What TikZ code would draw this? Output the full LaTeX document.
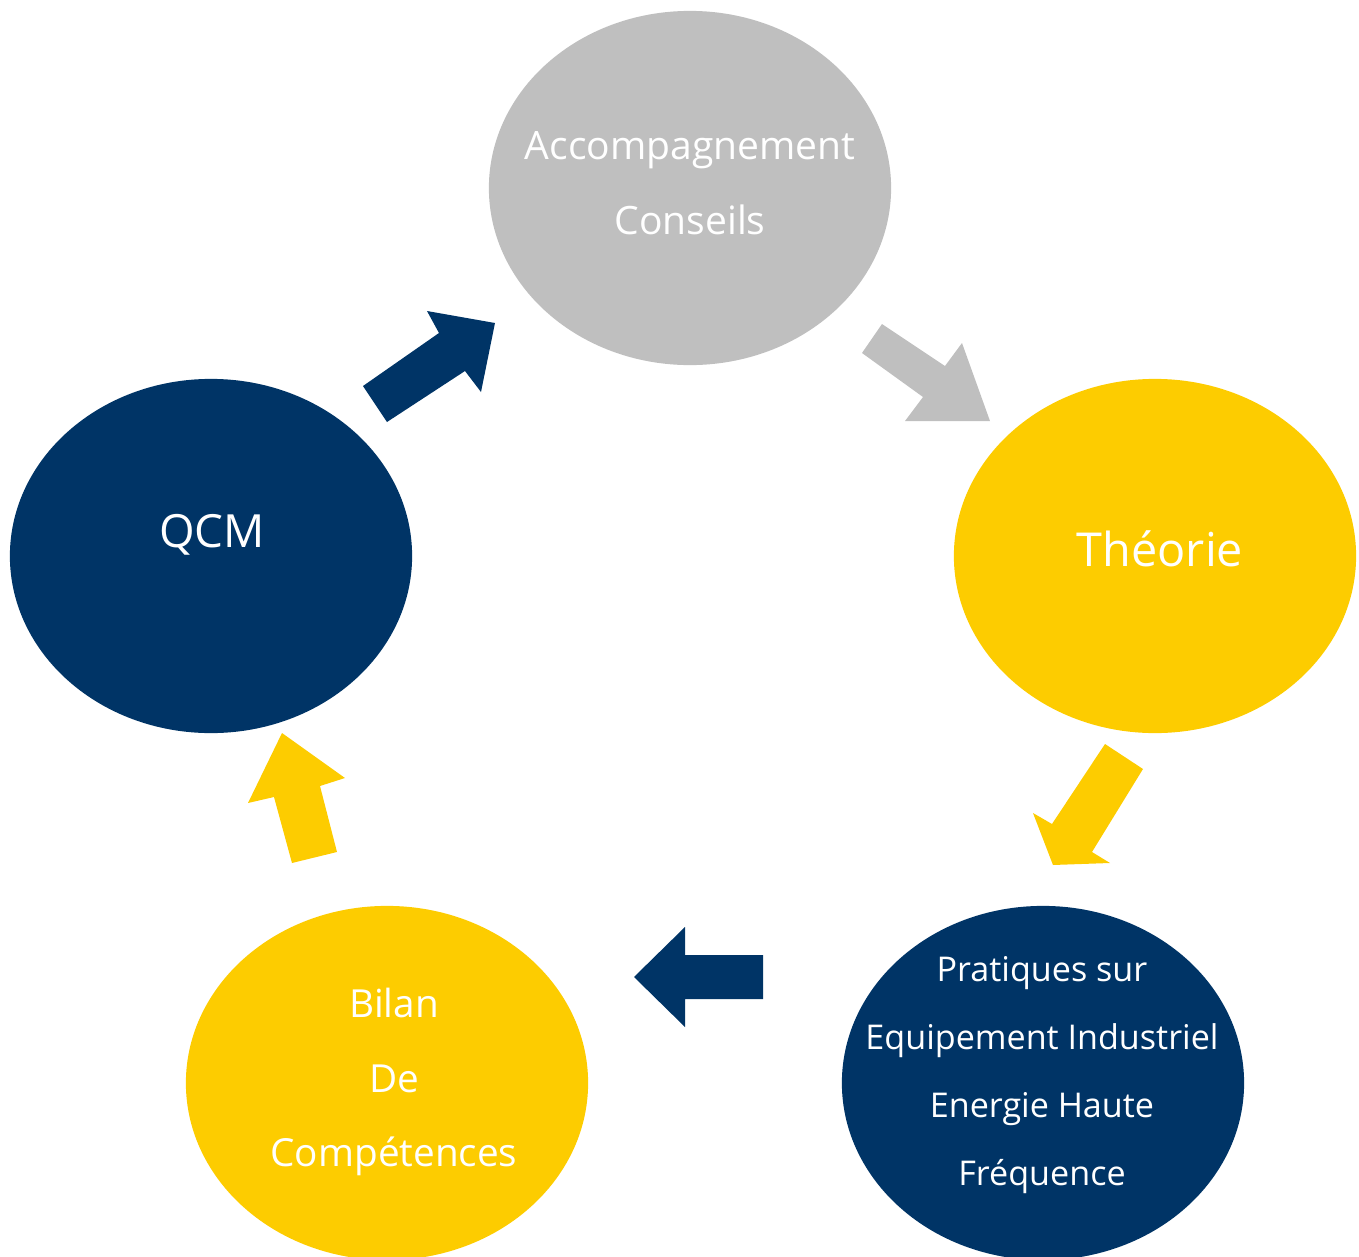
\documentclass[tikz,border=0pt]{standalone}
\usepackage{fontspec}
\setmainfont{Open Sans}
\usetikzlibrary{shapes.geometric}
\definecolor{navy}{RGB}{0,52,102}
\definecolor{jaune}{RGB}{253,204,0}
\definecolor{gris}{RGB}{191,191,191}
\tikzset{
	etape/.style={ellipse, minimum width=4.02cm, minimum height=3.54cm, inner sep=0pt},
	texte/.style={text=white, align=center},
}
\begin{document}
\begin{tikzpicture}[x=0.01cm, y=-0.01cm]
	\useasboundingbox (0,0) rectangle (1359,1257);
	\node[etape, fill=gris] (conseil) at (690,188) {};
	\node[etape, fill=jaune] (theorie) at (1155,556) {};
	\node[etape, fill=navy] (pratique) at (1043,1083) {};
	\node[etape, fill=jaune] (bilan) at (387,1083) {};
	\node[etape, fill=navy] (qcm) at (211,556) {};

	\node[texte, font=\fontsize{11.1}{21.3}\selectfont] (conseiltxt) at (690,183) {Accompagnement\\Conseils};
	\node[texte, font=\fontsize{13.3}{16}\selectfont] (theorietxt) at (1160,549) {Théorie};
	\node[texte, font=\fontsize{9.7}{19.3}\selectfont] (pratiquetxt) at (1042,1075) {Pratiques sur\\Equipement Industriel\\Energie Haute\\Fréquence};
	\node[texte, font=\fontsize{11}{21.3}\selectfont] (bilantxt) at (394,1082) {Bilan\\De\\Compétences};
	\node[texte, font=\fontsize{13}{16}\selectfont] (qcmtxt) at (212,535) {QCM};

	\fill[navy] (363,386) -- (439,333) -- (427,311) -- (495,323) -- (481,392) -- (465,371) -- (387,422) -- cycle;
	\fill[gris] (882,324) -- (945,366) -- (962,343) -- (990,421) -- (905,421) -- (923,397) -- (862,353) -- cycle;
	\fill[jaune] (1105,744) -- (1143,769) -- (1092,852) -- (1110,863) -- (1053,865) -- (1033,813) -- (1052,824) -- cycle;
	\fill[navy] (763,955) -- (685,955) -- (685,927) -- (634,977) -- (685,1027) -- (685,999) -- (763,999) -- cycle;
	\fill[jaune] (292,863) -- (274,797) -- (248,803) -- (282,733) -- (345,778) -- (320,786) -- (337,852) -- cycle;
\end{tikzpicture}
\end{document}
